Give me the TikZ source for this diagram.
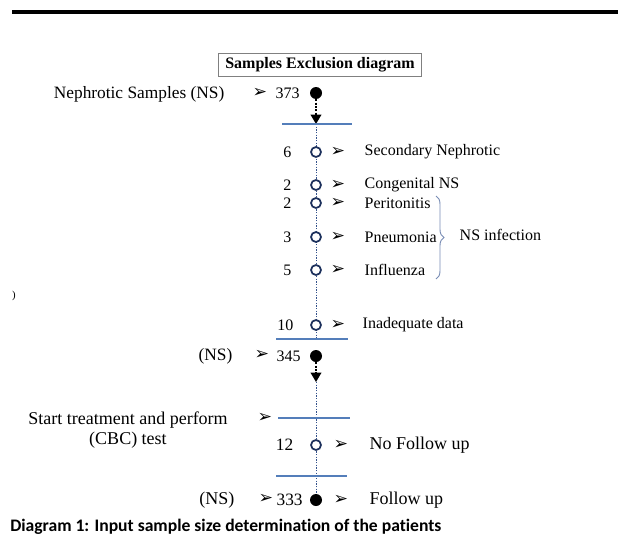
\documentclass[tikz,border=0pt]{standalone}
\usepackage{fontspec}
\setmainfont{Liberation Serif}
\newfontfamily\capfont[Ligatures=NoCommon]{Carlito}
\newfontfamily\symfont{DejaVu Sans}
\usepackage{xcolor}
\usetikzlibrary{arrows.meta,decorations.pathreplacing,positioning}

\definecolor{barblue}{RGB}{84,126,186}
\definecolor{spineblue}{RGB}{52,82,140}
\definecolor{ringnavy}{RGB}{28,48,92}
\definecolor{bracegray}{RGB}{120,140,180}

\newcommand{\pointer}{{\symfont\fontsize{13}{13}\selectfont ➢}}
\newcommand{\txtsize}[1]{\fontsize{#1}{#1}\selectfont}

\begin{document}
\begin{tikzpicture}[x=0.75pt,y=-0.75pt,font=\txtsize{12}]
		\useasboundingbox (0,0) rectangle (618,539);
		\tikzset{
			full/.style={circle,fill=black,inner sep=0pt,minimum size=9pt},
			ring/.style={circle,draw=ringnavy,fill=white,line width=1.3pt,inner sep=0pt,minimum size=7.5pt},
			bar/.style={barblue,line width=0.8pt},
			spine/.style={spineblue,line width=0.5pt,dash pattern=on 1pt off 1pt},
			lead/.style={black,line width=1pt,dash pattern=on 1.5pt off 1pt,-{Triangle[width=8pt,length=7pt]}},
			label/.style={anchor=west},
			count/.style={anchor=east}
		}
		% top rule
		\draw[black,line width=3pt] (12,12) -- (618,12);
		\node[draw=gray,inner xsep=5pt,inner ysep=3pt,font=\bfseries\txtsize{12}] (title) at (320,65) {Samples Exclusion diagram};
		% spines (under the rings)
		\coordinate (top1) at (316,124);
		\coordinate (bot1) at (316,339);
		\coordinate (top2) at (316,382);
		\coordinate (bot2) at (316,500);
		\draw[spine] (top1) -- (bot1);
		\draw[spine] (top2) -- (bot2);
		% start
		\node[anchor=east,font=\txtsize{13}] (src) at (229,94) {Nephrotic Samples (NS)};
		\node (p0) at (260,93) {\pointer};
		\node[anchor=west,inner xsep=1pt] (n0) at (274,93) {373};
		\node[full] (d0) at (316,93) {};
		\draw[lead] (d0) -- (top1);
		\draw[bar] (282,124) -- (352,124);
		% exclusions
		\node[count] (c1) at (296,152) {6};
		\node[ring] (r1) at (316,152) {};
		\node (q1) at (338,152) {\pointer};
		\node[label] (l1) at (360,152) {Secondary Nephrotic};
		\node[count] (c2) at (296,185) {2};
		\node[ring] (r2) at (316,185) {};
		\node (q2) at (338,185) {\pointer};
		\node[label] (l2) at (360,185) {Congenital NS};
		\node[count] (c3) at (296,203) {2};
		\node[ring] (r3) at (316,203) {};
		\node (q3) at (338,203) {\pointer};
		\node[label] (l3) at (360,203) {Peritonitis};
		\node[count] (c4) at (296,237) {3};
		\node[ring] (r4) at (316,237) {};
		\node (q4) at (338,237) {\pointer};
		\node[label] (l4) at (360,237) {Pneumonia};
		\node[count] (c5) at (296,270) {5};
		\node[ring] (r5) at (316,270) {};
		\node (q5) at (338,270) {\pointer};
		\node[label] (l5) at (360,270) {Influenza};
		\draw[bracegray,line width=0.7pt,decorate,decoration={brace,amplitude=6pt}] (436,196) -- (436,279);
		\node[label] (inf) at (455,235) {NS infection};
		\node[count] (c6) at (298,325) {10};
		\node[ring] (r6) at (316,325) {};
		\node (q6) at (338,325) {\pointer};
		\node[label] (l6) at (358,325) {Inadequate data};
		\draw[bar] (276,339) -- (348,339);
		% after exclusion
		\node[anchor=east,font=\txtsize{13}] (ns1) at (237,356) {(NS)};
		\node (p1) at (262,355) {\pointer};
		\node[anchor=west,inner xsep=1pt] (n1) at (275,356) {345};
		\node[full] (d1) at (316,356) {};
		\draw[lead] (d1) -- (top2);
		% treatment
		\node[align=center,font=\txtsize{13.5},inner sep=0pt] (treat) at (128,430) {Start treatment and perform\\[2pt](CBC) test};
		\node (p2) at (265,418) {\pointer};
		\draw[bar] (278,418) -- (350,418);
		\node[count,font=\txtsize{13}] (c7) at (298,445) {12};
		\node[ring] (r7) at (316,445) {};
		\node (q7) at (341,445) {\pointer};
		\node[label,font=\txtsize{13.5}] (l7) at (365,445) {No Follow up};
		\draw[bar] (276,476) -- (347,476);
		\node[anchor=east,font=\txtsize{13.5}] (ns2) at (239,500) {(NS)};
		\node (p3) at (266,499) {\pointer};
		\node[anchor=west,inner xsep=1pt,font=\txtsize{13}] (n2) at (275,500) {333};
		\node[full] (d2) at (316,500) {};
		\node (q8) at (341,500) {\pointer};
		\node[label,font=\txtsize{13.5}] (l8) at (365,500) {Follow up};
		% caption
		\node[anchor=west,inner xsep=0pt,font=\capfont\bfseries\txtsize{13.2}] (cap) at (10,527) {Diagram 1: Input sample size determination of the patients};
		\node[font=\txtsize{8}] (mark) at (14,296) {)};
\end{tikzpicture}
\end{document}
